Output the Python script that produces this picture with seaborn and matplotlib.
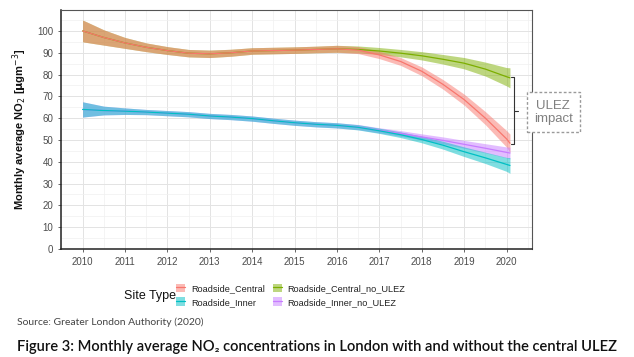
import numpy as np
import pandas as pd
import seaborn as sns
import matplotlib
matplotlib.use("Agg")
import matplotlib.pyplot as plt
from matplotlib.patches import Patch
from matplotlib.lines import Line2D
from matplotlib.legend_handler import HandlerTuple

# ---- data ----
time = [2010, 2010.5, 2011, 2011.5, 2012, 2012.5, 2013, 2013.5, 2014, 2014.5, 2015,
        2015.5, 2016, 2016.5, 2017, 2017.5, 2018, 2018.5, 2019, 2019.5, 2020, 2020.08]

central = [100, 97, 94.5, 92.5, 91, 89.8, 89.5, 90, 90.8, 91, 91.2,
           91.5, 91.8, 91.2, 89, 86, 81.5, 75.5, 68.5, 60, 50.5, 48.5]
central_w = [5, 3.5, 2.5, 2, 1.8, 1.7, 1.7, 1.6, 1.5, 1.5, 1.5,
             1.5, 1.6, 1.6, 1.7, 1.8, 2, 2.2, 2.5, 3, 3.8, 4.2]

central_no = [100, 97, 94.5, 92.5, 91, 89.8, 89.5, 90, 90.8, 91, 91.2,
              91.5, 91.8, 91.5, 90.8, 89.8, 88.6, 87, 85.2, 82.5, 79, 78.5]
central_no_w = [5, 3.5, 2.5, 2, 1.8, 1.7, 1.7, 1.6, 1.5, 1.5, 1.5,
                1.5, 1.6, 1.6, 1.6, 1.7, 1.9, 2.2, 2.6, 3.2, 4.2, 4.6]

inner = [64, 63.5, 63.2, 62.8, 62.3, 61.8, 61, 60.5, 59.8, 58.8, 57.9,
         57.2, 56.7, 55.8, 54.2, 52.4, 50.2, 47.6, 44.6, 41.8, 38.8, 38.3]
inner_w = [3.5, 2, 1.5, 1.2, 1.2, 1.2, 1.2, 1.2, 1.2, 1.2, 1.2,
           1.2, 1.2, 1.2, 1.2, 1.3, 1.5, 1.8, 2.2, 2.6, 3.2, 3.6]

inner_no = [64, 63.5, 63.2, 62.8, 62.3, 61.8, 61, 60.5, 59.8, 58.8, 57.9,
            57.2, 56.7, 55.9, 54.4, 53, 51.4, 49.8, 48, 46.2, 44.3, 44]
inner_no_w = [3.5, 2, 1.5, 1.2, 1.2, 1.2, 1.2, 1.2, 1.2, 1.2, 1.2,
              1.2, 1.2, 1.2, 1.2, 1.3, 1.4, 1.6, 1.8, 2.1, 2.5, 2.7]

site_types = ["Roadside_Central", "Roadside_Central_no_ULEZ",
              "Roadside_Inner", "Roadside_Inner_no_ULEZ"]
colors = ["#F8766D", "#7CAE00", "#00BFC4", "#C77CFF"]
year_ticks = list(range(2010, 2021))
y_ticks = list(range(0, 101, 10))

series = {
    "Roadside_Central": (central, central_w),
    "Roadside_Central_no_ULEZ": (central_no, central_no_w),
    "Roadside_Inner": (inner, inner_w),
    "Roadside_Inner_no_ULEZ": (inner_no, inner_no_w),
}

rows = []
for st in site_types:
    v, w = series[st]
    for t, vv, ww in zip(time, v, w):
        rows.append({"time": t, "no2": vv, "lo": vv - ww, "hi": vv + ww, "Site Type": st})
df = pd.DataFrame(rows)

# ---- plot ----
sns.set_theme(style="white")
plt.rcParams["font.family"] = ["Liberation Sans", "DejaVu Sans"]

fig = plt.figure(figsize=(6.34, 3.57), dpi=100)
ax = fig.add_axes([61 / 634, 1 - 249 / 357, (532 - 61) / 634, (249 - 10) / 357])

pal = dict(zip(site_types, colors))
draw_order = ["Roadside_Central_no_ULEZ", "Roadside_Central",
              "Roadside_Inner_no_ULEZ", "Roadside_Inner"]
# ribbons (green before red, purple before teal so overlaps match)
for st in draw_order:
    d = df[df["Site Type"] == st]
    ax.fill_between(d["time"], d["lo"], d["hi"], color=pal[st], alpha=0.5, lw=0, zorder=2)

for st in draw_order:
    d = df[df["Site Type"] == st]
    sns.lineplot(data=d, x="time", y="no2", color=pal[st], lw=0.9, ax=ax,
                 legend=False, zorder=3)

ax.set_xlim(2009.49, 2020.6)
ax.set_ylim(0, 109.6)
ax.set_xticks(year_ticks)
ax.set_xticklabels([str(y) for y in year_ticks])
ax.set_yticks(y_ticks)
ax.set_xticks(np.arange(2009.5, 2020.6, 0.5), minor=True)
ax.set_yticks(np.arange(5, 110, 5), minor=True)
ax.grid(True, which="major", color="#e3e3e3", lw=0.7, zorder=0)
ax.grid(True, which="minor", color="#f0f0f0", lw=0.5, zorder=0)
ax.set_axisbelow(True)
for s in ["top", "right"]:
    ax.spines[s].set_color("#555555")
    ax.spines[s].set_linewidth(0.8)
for s in ["left", "bottom"]:
    ax.spines[s].set_color("#222222")
    ax.spines[s].set_linewidth(1.1)
ax.tick_params(axis="both", which="major", labelsize=7, colors="#4d4d4d", length=2.5,
               width=0.6, direction="out", left=True, bottom=True, pad=3)
ax.tick_params(axis="both", which="minor", length=0)
ax.set_xlabel("")
ax.set_ylabel(r"Monthly average NO$_2$ [$\mathbf{\mu}$gm$^{-3}$]", fontsize=8,
              fontweight="bold", color="#111111", labelpad=6)

# ULEZ impact bracket
bx = 2020.18
ax.plot([bx, bx], [48.2, 78.8], color="#333333", lw=0.8, clip_on=False, zorder=4)
ax.plot([2020.1, bx], [78.8, 78.8], color="#333333", lw=0.8, clip_on=False, zorder=4)
ax.plot([2020.1, bx], [48.2, 48.2], color="#333333", lw=0.8, clip_on=False, zorder=4)
ax.plot([bx, 2020.27], [63.5, 63.5], color="#333333", lw=0.8, clip_on=False, zorder=4)
ax.text(2021.1, 62.7, "ULEZ\nimpact", ha="center", va="center", fontsize=9.5,
        color="#808080", clip_on=False, linespacing=1.15,
        bbox=dict(boxstyle="square,pad=0.55", fc="white", ec="#9a9a9a", ls=(0, (2, 1.5)), lw=1))

# legend (row-wise order: Central, Central_no_ULEZ / Inner, Inner_no_ULEZ)
leg_order = [0, 2, 1, 3]
handles, labels = [], []
for i in leg_order:
    c = colors[i]
    handles.append((Patch(facecolor=c, alpha=0.5, edgecolor="none"),
                    Line2D([0], [0], color=c, lw=0.9)))
    labels.append(site_types[i])
leg = fig.legend(handles, labels, loc="center left",
                 bbox_to_anchor=(168 / 634, 0.173), ncol=2, frameon=False,
                 fontsize=6.6, handlelength=1.0, handleheight=1.1, handletextpad=0.6,
                 columnspacing=0.9, labelspacing=0.45,
                 handler_map={tuple: HandlerTuple(ndivide=1, pad=0)})
for t in leg.get_texts():
    t.set_color("#222222")
fig.text(150 / 634, 0.172, "Site Type", ha="center", va="center", fontsize=9, color="#111111")

# source and caption
fig.text(17 / 634, 1 - 322 / 357, "Source: Greater London Authority (2020)",
         fontsize=7.5, color="#444444", family=["Lato", "DejaVu Sans"], va="center")
fig.text(17 / 634, 1 - 347 / 357,
         "Figure 3: Monthly average NO\u2082 concentrations in London with and without the central ULEZ",
         fontsize=10.6, color="#111111", family=["Lato", "DejaVu Sans"], fontweight="semibold",
         va="center")

fig.savefig("out.png", dpi=100)
